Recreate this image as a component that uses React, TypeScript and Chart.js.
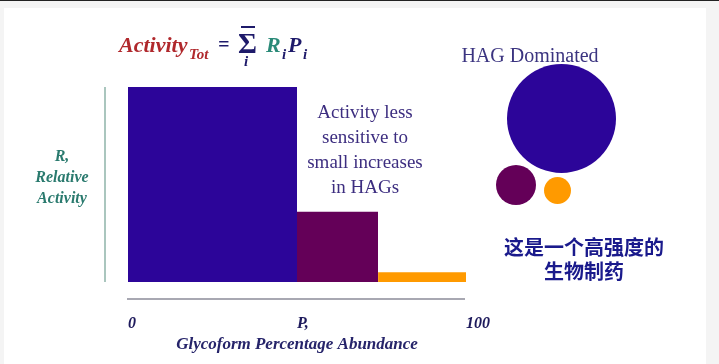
import React, { useEffect, useRef } from "react";
import { Chart, registerables } from "chart.js";

Chart.register(...registerables);

// ---- data ----
const segmentStarts = [0, 50, 74];
const segmentEnds = [50, 74, 100];
const relativeActivity = [1.0, 0.36, 0.05];
const segmentColors = ["#2c0599", "#640058", "#ff9a00"];
const xTickValues = [0, 50, 100];
const xTickLabels = ["0", "P,", "100"];
const xTitle = "Glycoform Percentage Abundance";
const yTitleLines = ["R,", "Relative", "Activity"];
const noteLines = ["Activity less", "sensitive to", "small increases", "in HAGs"];
const bubbleTitle = "HAG Dominated";
const cnLines = ["这是一个高强度的", "生物制药"];

const SERIF = "'Liberation Serif', 'Times New Roman', serif";

const axisLinesPlugin = {
  id: "axisLines",
  beforeDatasetsDraw(chart: any) {
    const { ctx, chartArea } = chart;
    const { left, right, top, bottom } = chartArea;
    ctx.save();
    ctx.lineWidth = 2;
    ctx.strokeStyle = "#aac6be";
    ctx.beginPath();
    ctx.moveTo(left - 23, top);
    ctx.lineTo(left - 23, bottom);
    ctx.stroke();
    ctx.strokeStyle = "#a8a8b2";
    ctx.beginPath();
    ctx.moveTo(left - 1, bottom + 17);
    ctx.lineTo(right - 1, bottom + 17);
    ctx.stroke();
    ctx.restore();
  },
};

function ChartCanvas() {
  const ref = useRef<HTMLCanvasElement | null>(null);
  useEffect(() => {
    if (!ref.current) return;
    const datasets = segmentStarts.map((s, i) => ({
      data: [
        { x: s, y: relativeActivity[i] },
        { x: segmentEnds[i], y: relativeActivity[i] },
      ],
      fill: "origin",
      backgroundColor: segmentColors[i],
      borderColor: segmentColors[i],
      borderWidth: 0,
      pointRadius: 0,
      tension: 0,
    }));
    const chart = new Chart(ref.current, {
      type: "line",
      data: { datasets } as any,
      plugins: [axisLinesPlugin],
      options: {
        animation: false,
        responsive: false,
        maintainAspectRatio: false,
        layout: { padding: { left: 128, right: 253, top: 87, bottom: 9 } },
        plugins: {
          legend: { display: false },
          tooltip: { enabled: false },
          title: { display: false },
        },
        scales: {
          x: {
            type: "linear",
            min: 0,
            max: 100,
            grid: { display: false, drawTicks: false },
            border: { display: false },
            afterBuildTicks: (scale: any) => {
              scale.ticks = xTickValues.map((v) => ({ value: v }));
            },
            ticks: {
              align: "start",
              maxRotation: 0,
              minRotation: 0,
              padding: 33,
              color: "#1e1a5c",
              font: { family: SERIF, size: 16, style: "italic", weight: "bold", lineHeight: "18px" },
              callback: (v: any) => {
                const idx = xTickValues.indexOf(Number(v));
                return idx >= 0 ? xTickLabels[idx] : "";
              },
            },
            title: {
              display: true,
              text: xTitle,
              color: "#26246a",
              padding: { top: -31, bottom: 0 },
              font: { family: SERIF, size: 17, style: "italic", weight: "bold", lineHeight: "20px" },
            },
          },
          y: {
            type: "linear",
            min: 0,
            max: 1,
            display: false,
          },
        },
      } as any,
    });
    return () => chart.destroy();
  }, []);
  return (
    <canvas
      ref={ref}
      width={719}
      height={364}
      style={{ position: "absolute", left: 0, top: 0, width: 719, height: 364 }}
    />
  );
}

function T(props: {
  x: number;
  base: number;
  size: number;
  color: string;
  text: string;
  italic?: boolean;
  bold?: boolean;
}) {
  const { x, base, size, color, text } = props;
  return (
    <span
      style={{
        position: "absolute",
        left: x,
        top: base - 0.8375 * size,
        fontFamily: SERIF,
        fontSize: size,
        lineHeight: `${size}px`,
        fontStyle: props.italic === false ? "normal" : "italic",
        fontWeight: props.bold === false ? "normal" : "bold",
        color,
        whiteSpace: "nowrap",
      }}
    >
      {text}
    </span>
  );
}

function Circle(props: { cx: number; cy: number; r: number; color: string }) {
  return (
    <div
      style={{
        position: "absolute",
        left: props.cx - props.r,
        top: props.cy - props.r,
        width: props.r * 2,
        height: props.r * 2,
        borderRadius: "50%",
        background: props.color,
      }}
    />
  );
}

export default function App() {
  const red = "#b0282c";
  const navy = "#1e1a6a";
  const teal = "#2a8a78";
  return (
    <div
      style={{
        position: "absolute",
        left: 0,
        top: 0,
        width: 719,
        height: 364,
        overflow: "hidden",
        background: "#f4f4f4",
      }}
    >
      <div style={{ position: "absolute", left: 0, top: 0, width: 719, height: 1, background: "#222" }} />
      <div style={{ position: "absolute", left: 4, top: 8, width: 702, height: 356, background: "#ffffff" }} />
      <ChartCanvas />

      {/* formula */}
      <T x={119} base={52} size={22} color={red} text="Activity" />
      <T x={189} base={60} size={15} color={red} text="Tot" />
      <T x={218} base={51} size={20} color={navy} text="=" />
      <div style={{ position: "absolute", left: 241, top: 26, width: 14, height: 2, background: navy }} />
      <T x={238} base={53} size={29} color={navy} text="Σ" italic={false} />
      <T x={244} base={67} size={15} color={navy} text="i" />
      <T x={266} base={52} size={22} color={teal} text="R" />
      <T x={282} base={60} size={15} color={navy} text="i" />
      <T x={288} base={52} size={22} color={navy} text="P" />
      <T x={303} base={60} size={15} color={navy} text="i" />

      {/* y title */}
      <div
        style={{
          position: "absolute",
          left: 12,
          top: 145,
          width: 100,
          textAlign: "center",
          fontFamily: SERIF,
          fontSize: 16,
          lineHeight: "21px",
          fontStyle: "italic",
          fontWeight: "bold",
          color: "#2a7a6e",
        }}
      >
        {yTitleLines.map((l) => (
          <div key={l}>{l}</div>
        ))}
      </div>

      {/* note */}
      <div
        style={{
          position: "absolute",
          left: 285,
          top: 99,
          width: 160,
          textAlign: "center",
          fontFamily: SERIF,
          fontSize: 19,
          lineHeight: "25px",
          color: "#3d2e80",
        }}
      >
        {noteLines.map((l) => (
          <div key={l}>{l}</div>
        ))}
      </div>

      {/* bubbles */}
      <div
        style={{
          position: "absolute",
          left: 430,
          top: 43,
          width: 200,
          textAlign: "center",
          fontFamily: SERIF,
          fontSize: 20,
          lineHeight: "24px",
          color: "#3b3480",
          whiteSpace: "nowrap",
        }}
      >
        {bubbleTitle}
      </div>
      <Circle cx={561.5} cy={118.5} r={54.5} color="#2c0599" />
      <Circle cx={516} cy={185} r={20} color="#640058" />
      <Circle cx={557.5} cy={190.5} r={13.5} color="#ff9a00" />

      {/* chinese */}
      <div
        style={{
          position: "absolute",
          left: 484,
          top: 235,
          width: 200,
          textAlign: "center",
          fontFamily: "'Noto Sans CJK SC', sans-serif",
          fontSize: 20,
          lineHeight: "24px",
          fontWeight: "bold",
          color: "#1a1a8c",
          whiteSpace: "nowrap",
        }}
      >
        {cnLines.map((l) => (
          <div key={l}>{l}</div>
        ))}
      </div>
    </div>
  );
}
